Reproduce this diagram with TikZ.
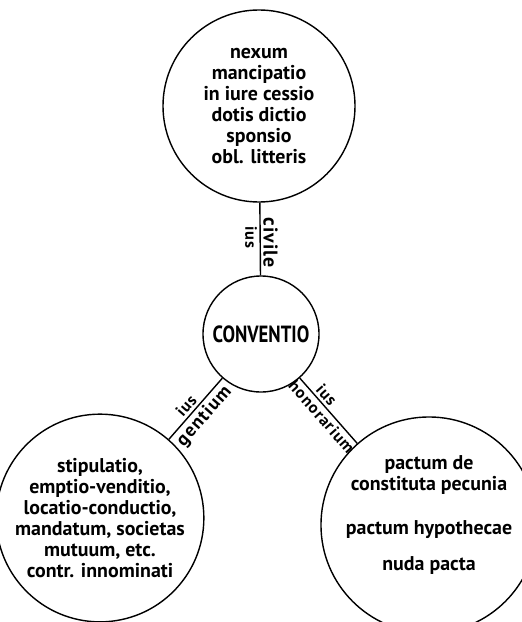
\documentclass[tikz,border=0pt]{standalone}
\usepackage{fontspec}
\setmainfont{PT Sans}
\newfontfamily\schmal[FakeStretch=0.8]{PT Sans}
\newfontfamily\weit[LetterSpace=6]{PT Sans}
\usepackage{tikz}
\tikzset{>=latex}
\tikzset{
  kreis/.style={draw, circle, line width=1.2pt, align=center, inner sep=0pt,
    font=\fontsize{17}{18}\selectfont\bfseries},
  verb/.style={line width=1.2pt},
  ius/.style={font=\fontsize{14}{16}\weit\bfseries, inner sep=2pt}
}

\begin{document}
\begin{tikzpicture}[x=0.03cm, y=-0.03cm]
    \useasboundingbox (0, 0) rectangle (521, 622);

    % die vier Kreise
    \node[kreis, minimum size=5.76cm] (civ) at (259, 106)
        {nexum\\ mancipatio\\ in iure cessio\\ dotis dictio\\ sponsio\\ obl. litteris};
    \node[kreis, minimum size=3.48cm, font=\fontsize{20}{22}\schmal\bfseries] (conv) at (261, 334) {CONVENTIO};
    \node[kreis, minimum size=5.52cm] (gent) at (100, 518)
        {stipulatio,\\ emptio-venditio,\\ locatio-conductio,\\ mandatum, societas\\ mutuum, etc.\\ contr. innominati};
    \node[kreis, minimum size=5.58cm] (hon) at (429, 525)
        {pactum de\\ constituta pecunia\\[19pt] pactum hypothecae\\[13pt] nuda pacta\\[2pt] \mbox{}};

    % Verbindungen
    \draw[verb] (civ) -- (conv)
        node[ius, pos=0.55, rotate=-90, anchor=south, font=\fontsize{17}{18}\weit\bfseries] {civile}
        node[ius, pos=0.48, rotate=-90, anchor=north] {ius};
    \draw[verb] (conv) -- (gent)
        node[ius, pos=0.55, sloped, above] {ius}
        node[ius, pos=0.5, sloped, below, font=\fontsize{16}{18}\weit\bfseries] {gentium};
    \draw[verb] (conv) -- (hon)
        node[ius, pos=0.35, sloped, above] {ius}
        node[ius, pos=0.5, sloped, below, font=\fontsize{14}{16}\weit\bfseries] {honorarium};

\end{tikzpicture}
\end{document}
